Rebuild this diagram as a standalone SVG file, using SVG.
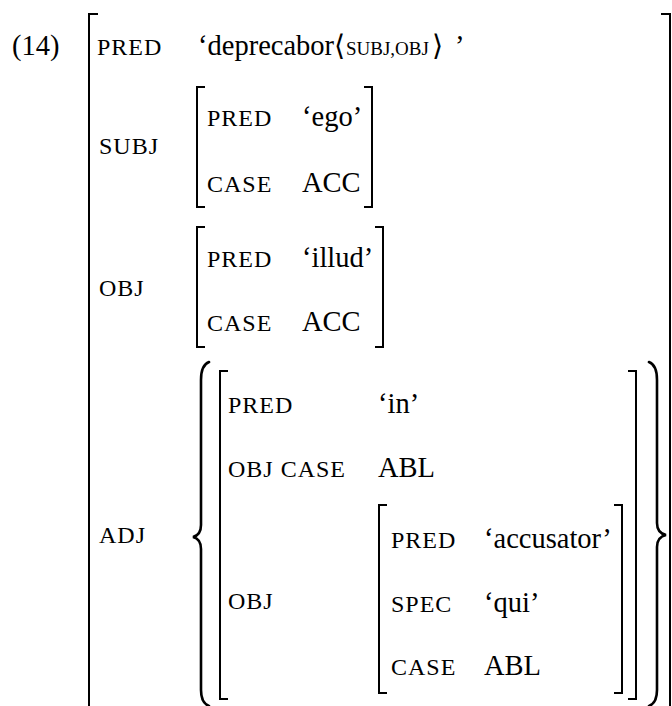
<svg xmlns="http://www.w3.org/2000/svg" width="672" height="706" viewBox="0 0 672 706" font-family="'Liberation Serif', 'Times New Roman', Times, 'DejaVu Serif', serif">
<style>
.v { font-size: 28.5px; }
.a { font-size: 24px; letter-spacing: 1px; }
.s { font-size: 19px; }
.br { fill: none; stroke: #000; stroke-width: 2; }
.bc { fill: none; stroke: #000; stroke-width: 2.6; stroke-linecap: round; }
</style>
<rect width="672" height="706" fill="#fff"/>
<text class="v" x="12" y="55">(14)</text>

<g id="outer">
  <path class="br" d="M98 14 H89 V706"/>
  <path class="br" d="M661 14 H670 V706"/>
  <text class="a" x="97" y="55">PRED</text>
  <text class="v" x="198" y="55">‘deprecabor</text>
  <text class="v" x="334" y="55" font-family="'DejaVu Serif', serif">⟨</text>
  <text class="s" x="346" y="55">SUBJ,OBJ</text>
  <text class="v" x="432" y="55" font-family="'DejaVu Serif', serif">⟩</text>
  <text class="v" x="455" y="55">’</text>
  <text class="a" x="99" y="154">SUBJ</text>
  <text class="a" x="99" y="296">OBJ</text>
  <text class="a" x="99" y="543">ADJ</text>
</g>

<g id="subj">
  <path class="br" d="M205 87 H197 V207 H205"/>
  <path class="br" d="M364 87 H372 V207 H364"/>
  <text class="a" x="207" y="126">PRED</text>
  <text class="v" x="302" y="126">‘ego’</text>
  <text class="a" x="207" y="192">CASE</text>
  <text class="v" x="302" y="192">ACC</text>
</g>

<g id="obj">
  <path class="br" d="M205 227 H197 V347 H205"/>
  <path class="br" d="M375 227 H383 V347 H375"/>
  <text class="a" x="207" y="267">PRED</text>
  <text class="v" x="302" y="267">‘illud’</text>
  <text class="a" x="207" y="331">CASE</text>
  <text class="v" x="302" y="331">ACC</text>
</g>

<g id="adj">
  <path class="bc" d="M209 362 Q201 365 201 380 L201 525 Q201 535 193 537 Q201 539 201 549 L201 690 Q201 703 209 706"/>
  <path class="bc" d="M649 362 Q657 365 657 380 L657 523 Q657 533 666 535 Q657 537 657 547 L657 690 Q657 703 649 706"/>
  <path class="br" d="M228 371 H220 V699 H228"/>
  <path class="br" d="M628 371 H636 V699 H628"/>
  <text class="a" x="228" y="413">PRED</text>
  <text class="v" x="378" y="413">‘in’</text>
  <text class="a" x="228" y="477">OBJ CASE</text>
  <text class="v" x="378" y="477">ABL</text>
  <text class="a" x="228" y="609">OBJ</text>
</g>

<g id="adj-obj">
  <path class="br" d="M387 505 H379 V693 H387"/>
  <path class="br" d="M614 505 H622 V693 H614"/>
  <text class="a" x="391" y="548">PRED</text>
  <text class="v" x="484" y="548">‘accusator’</text>
  <text class="a" x="391" y="612">SPEC</text>
  <text class="v" x="484" y="612">‘qui’</text>
  <text class="a" x="391" y="675">CASE</text>
  <text class="v" x="484" y="675">ABL</text>
</g>
</svg>
